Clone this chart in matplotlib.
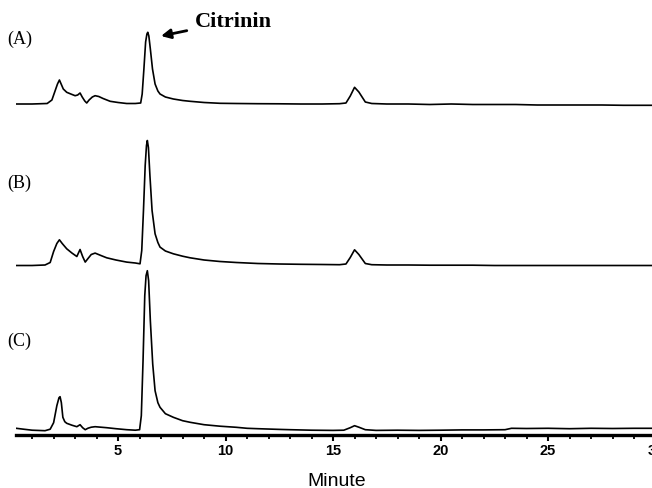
import matplotlib
matplotlib.use("Agg")
import matplotlib.pyplot as plt
from matplotlib.ticker import MultipleLocator

# ---- data (retention time in minutes, detector signal in arbitrary units) ----
time_a = [0.26, 1.0, 1.7, 1.92, 2.05, 2.18, 2.27, 2.35, 2.45, 2.61, 2.8, 3.0, 3.12, 3.23, 3.33,
          3.45, 3.54, 3.65, 3.8, 3.93, 4.1, 4.3, 4.63, 5.0, 5.4, 5.8, 6.05, 6.12, 6.2, 6.28,
          6.34, 6.38, 6.43, 6.5, 6.6, 6.72, 6.85, 6.95, 7.2, 7.57, 8.0, 8.35, 9.0, 9.74, 10.5,
          11.5, 12.5, 13.5, 14.5, 15.3, 15.6, 15.8, 16.0, 16.2, 16.5, 16.8, 17.5, 18.5, 19.5,
          20.5, 21.5, 22.5, 23.5, 24.5, 25.5, 26.5, 27.5, 28.5, 29.5, 30.0]
signal_a = [0, 0, 0.5, 4, 12, 20, 24, 20, 15, 11.7, 10, 8.3, 9, 11, 7,
            3, 1, 4, 7, 8.3, 7.5, 5.5, 2.7, 1.5, 0.5, 0.5, 1, 10, 35, 62,
            70, 71.7, 68, 55, 35, 20, 13, 10, 7, 5, 3.5, 2.7, 1.5, 0.7, 0.5,
            0.3, 0.2, 0, 0, 0.3, 1, 8, 16.7, 12, 2, 0.5, 0, 0, -0.5,
            0, -0.5, -0.5, -0.5, -1, -1, -1, -1, -1.3, -1.3, -1.3]

time_b = [0.26, 1.0, 1.6, 1.84, 2.0, 2.15, 2.27, 2.4, 2.61, 2.85, 3.08, 3.23, 3.35, 3.47, 3.6,
          3.75, 3.93, 4.2, 4.47, 4.9, 5.4, 5.8, 6.02, 6.1, 6.18, 6.26, 6.32, 6.36, 6.41, 6.48,
          6.58, 6.72, 6.85, 6.95, 7.2, 7.57, 8.0, 8.35, 9.0, 9.74, 10.5, 11.5, 12.5, 13.5, 14.5,
          15.3, 15.6, 15.8, 16.0, 16.2, 16.5, 16.8, 17.5, 18.5, 19.5, 20.5, 21.5, 22.5, 23.5,
          24.5, 25.5, 26.5, 27.5, 28.5, 29.5, 30.0]
signal_b = [0, 0, 0.5, 3, 14, 22, 25.7, 22, 16.7, 12.5, 9, 16, 9, 3.4, 7,
            11, 12.4, 10, 7.7, 5.5, 3.4, 2.5, 1.7, 15, 55, 100, 120, 125, 118, 90,
            55, 31.7, 23, 18.4, 14.5, 11.7, 9.3, 7.7, 5.5, 4, 3, 2, 1.5, 1.2, 1,
            0.8, 1.5, 8, 15.7, 11, 2, 0.8, 0.5, 0.5, 0.3, 0.3, 0.3, 0, 0,
            0, 0, 0, 0, 0, 0, 0]

time_c = [0.26, 0.6, 1.0, 1.6, 1.84, 2.0, 2.15, 2.25, 2.30, 2.36, 2.43, 2.52, 2.61, 2.85, 3.08,
          3.23, 3.35, 3.47, 3.6, 3.75, 3.93, 4.2, 4.47, 4.9, 5.4, 5.8, 6.0, 6.08, 6.16, 6.24,
          6.3, 6.36, 6.42, 6.5, 6.61, 6.72, 6.85, 6.95, 7.2, 7.57, 8.0, 8.35, 9.0, 9.74, 10.5,
          11.0, 11.5, 12.5, 13.0, 14.0, 15.0, 15.5, 15.8, 16.0, 16.2, 16.5, 17.0, 18.0, 19.0,
          20.0, 21.0, 22.0, 23.0, 23.3, 24.0, 25.0, 26.0, 27.0, 28.0, 29.0, 30.0]
signal_c = [2.4, 1.5, 0.5, 0, 1.5, 8, 25, 33, 34, 28, 13.4, 9, 7.4, 5.5, 4,
            6, 3, 1, 2.5, 3.5, 4, 3.5, 3, 2, 1, 0.5, 1, 15, 70, 135,
            155, 160, 150, 110, 66.7, 40, 28, 23.4, 17, 13.4, 10, 8.4, 6, 4.5, 3.4,
            2.4, 2, 1.3, 1, 0.5, 0.3, 0.5, 3, 5, 3.5, 1, 0.3, 0.5, 0.3,
            0.5, 0.8, 0.8, 1.0, 2.4, 2.2, 2.4, 2.0, 2.4, 2.2, 2.4, 2.4]

trace_offsets = {"A": 331, "B": 169.5, "C": 4.3}
panel_labels = ["(A)", "(B)", "(C)"]
major_ticks = [5, 10, 15, 20, 25, 30]
tick_labels = ["5", "10", "15", "20", "25", "30"]

# ---- figure ----
W, H = 652, 489
fig = plt.figure(figsize=(W / 100, H / 100), dpi=100)
ax_left, ax_right, ax_bottom = 16, 655.5, 436
ax = fig.add_axes([ax_left / W, (H - ax_bottom) / H, (ax_right - ax_left) / W, ax_bottom / H])

for t, s, key in [(time_a, signal_a, "A"), (time_b, signal_b, "B"), (time_c, signal_c, "C")]:
    off = trace_offsets[key]
    ax.plot(t, [v + off for v in s], color="black", lw=1.2, solid_joinstyle="round")

ax.set_xlim(0.25, 30.0)
ax.set_ylim(0, 436)
for sp in ["left", "right", "top"]:
    ax.spines[sp].set_visible(False)
ax.spines["bottom"].set_linewidth(2.4)
ax.set_yticks([])
ax.set_xticks(major_ticks)
ax.set_xticklabels(tick_labels, fontfamily="Liberation Sans", fontweight="bold", fontsize=10.5)
ax.xaxis.set_minor_locator(MultipleLocator(1))
ax.tick_params(axis="x", which="major", direction="out", length=4.5, width=1.5, pad=1.5)
ax.tick_params(axis="x", which="minor", direction="out", length=2.8, width=1.3)

ax.set_xlabel("Minute", fontfamily="Liberation Sans", fontsize=14, va="baseline")
ax.xaxis.set_label_coords((337 - ax_left) / (ax_right - ax_left), -(486.5 - ax_bottom) / ax_bottom)

# panel labels
for lab, ypix in zip(panel_labels, [39, 183, 341]):
    fig.text(7 / W, 1 - ypix / H, lab, fontfamily="Liberation Serif", fontsize=13,
             ha="left", va="center")

# Citrinin annotation
ax.annotate("Citrinin", xy=(161 / W, 1 - 37 / H), xycoords="figure fraction",
            xytext=(195 / W, 1 - 27 / H), textcoords="figure fraction",
            fontfamily="Liberation Serif", fontweight="bold", fontsize=16,
            ha="left", va="baseline",
            arrowprops=dict(arrowstyle="-|>", color="black", lw=2.0, mutation_scale=14,
                            shrinkA=4, shrinkB=0))

fig.savefig("out.png", dpi=100)
